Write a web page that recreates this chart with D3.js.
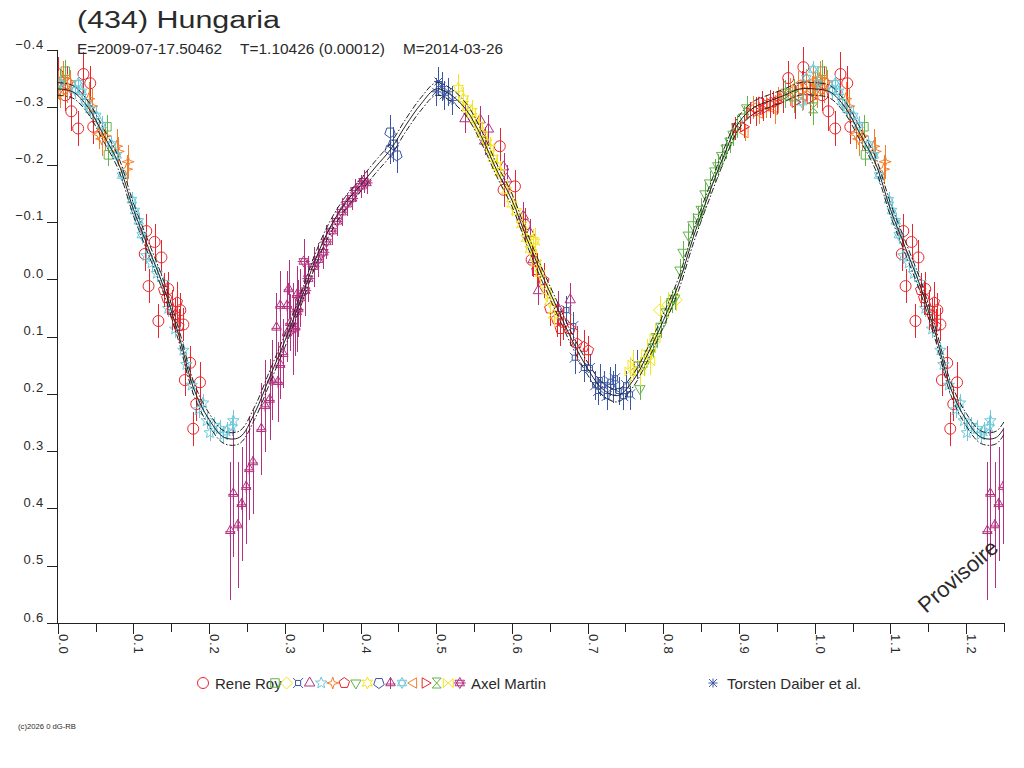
<!DOCTYPE html>
<meta charset="utf-8">
<style>
  body { margin: 0; background: #fff; }
  text { font-family: "Liberation Sans", Arial, sans-serif; fill: #2a2a2a; }
</style>
<svg width="1024" height="768"></svg>
<script src="https://d3js.org/d3.v7.min.js"></script>
<script>
  // axis ticks
  var yTicks = [-0.4, -0.3, -0.2, -0.1, 0.0, 0.1, 0.2, 0.3, 0.4, 0.5, 0.6];
  var xMajor = [0.0, 0.1, 0.2, 0.3, 0.4, 0.5, 0.6, 0.7, 0.8, 0.9, 1.0, 1.1, 1.2];
  var xMinor = [0.05, 0.15, 0.25, 0.35, 0.45, 0.55, 0.65, 0.75, 0.85, 0.95, 1.05, 1.15, 1.25];

  // fitted lightcurve
  var fitPhase = [0.00, 0.02, 0.04, 0.06, 0.08, 0.10, 0.12, 0.14, 0.16, 0.18, 0.20, 0.22, 0.24, 0.26,
    0.28, 0.30, 0.32, 0.34, 0.36, 0.38, 0.40, 0.42, 0.44, 0.46, 0.48, 0.50, 0.52, 0.54, 0.56, 0.58,
    0.60, 0.62, 0.64, 0.66, 0.68, 0.70, 0.72, 0.74, 0.76, 0.78, 0.80, 0.82, 0.84, 0.86, 0.88, 0.90,
    0.92, 0.94, 0.96, 0.98, 1.00];
  var fitMag = [-0.332, -0.327, -0.300, -0.253, -0.203, -0.122, -0.054, 0.014, 0.098, 0.192, 0.245, 0.276, 0.276, 0.234,
    0.171, 0.108, 0.040, -0.033, -0.091, -0.133, -0.164, -0.196, -0.227, -0.269, -0.306, -0.332, -0.321, -0.295, -0.248, -0.190,
    -0.138, -0.070, -0.007, 0.051, 0.108, 0.156, 0.192, 0.203, 0.177, 0.129, 0.072, 0.009, -0.075, -0.148, -0.216, -0.274,
    -0.300, -0.311, -0.321, -0.332, -0.332];

  // sessions: [phase, mag, error]
  var roy = [[0.000,-0.358,0.030],[0.012,-0.342,0.030],[0.034,-0.358,0.038],[0.043,-0.342,0.030],[0.018,-0.293,0.035],
    [0.027,-0.263,0.030],[0.010,-0.321,0.028],[0.047,-0.266,0.030],[0.117,-0.084,0.030],[0.128,-0.065,0.032],
    [0.115,-0.044,0.030],[0.137,-0.038,0.030],[0.120,0.012,0.030],[0.146,0.017,0.030],[0.133,0.073,0.030],
    [0.162,0.054,0.030],[0.166,0.079,0.028],[0.175,0.146,0.030],[0.168,0.176,0.028],[0.188,0.180,0.035],
    [0.183,0.218,0.030],[0.179,0.261,0.030],[0.584,-0.232,0.032],[0.589,-0.156,0.030],[0.604,-0.162,0.028],
    [0.617,-0.095,0.030],[0.626,-0.034,0.028],[0.965,-0.351,0.030],[0.985,-0.370,0.035],[0.983,-0.333,0.030]];
  var greenSq = [[0.003,-0.345,0.020],[0.010,-0.363,0.020],[0.065,-0.266,0.020],[0.067,-0.217,0.020]];
  var yellowDia = [[0.795,0.054,0.025],[0.806,0.045,0.022],[0.817,0.036,0.020]];
  var blueCross = [[0.672,0.054,0.025],[0.681,0.082,0.025],[0.683,0.137,0.028],[0.695,0.155,0.025],[0.703,0.155,0.025],
    [0.710,0.185,0.025],[0.716,0.176,0.028],[0.721,0.185,0.025],[0.725,0.204,0.025],[0.730,0.179,0.025],
    [0.734,0.188,0.028],[0.741,0.195,0.025],[0.747,0.204,0.025],[0.751,0.185,0.025],[0.756,0.201,0.028],
    [0.714,0.195,0.025],[0.765,0.149,0.025],[0.736,0.173,0.025]];
  var magTri = [[0.538,-0.280,0.025],[0.558,-0.278,0.025],[0.569,-0.262,0.025],[0.564,-0.241,0.025],[0.589,-0.196,0.025],
    [0.593,-0.175,0.025],[0.615,-0.110,0.025],[0.624,-0.080,0.025],[0.628,-0.034,0.030],[0.635,0.020,0.025],
    [0.661,0.051,0.030],[0.677,0.036,0.030]];
  var cyanStar = [[0.117,-0.041,0.015],[0.124,-0.028,0.015],[0.131,-0.010,0.015],[0.140,0.006,0.015],[0.146,0.051,0.015],
    [0.155,0.087,0.015],[0.166,0.124,0.015],[0.170,0.149,0.015],[0.177,0.185,0.015],[0.186,0.228,0.015],
    [0.192,0.216,0.015],[0.197,0.247,0.015],[0.206,0.255,0.015],[0.214,0.261,0.015],[0.223,0.265,0.015],
    [0.230,0.258,0.015],[0.232,0.247,0.018],[0.219,0.271,0.015],[0.201,0.268,0.015]];
  var orange4 = [[0.001,-0.339,0.025],[0.007,-0.351,0.030],[0.012,-0.333,0.025],[0.003,-0.323,0.025],[0.016,-0.345,0.020],
    [0.041,-0.315,0.030],[0.045,-0.302,0.030],[0.054,-0.253,0.025],[0.058,-0.245,0.030],[0.063,-0.250,0.025],
    [0.078,-0.232,0.030],[0.080,-0.223,0.025],[0.091,-0.192,0.025],[0.093,-0.205,0.030]];
  var redPent = [[0.144,0.033,0.030],[0.151,0.054,0.035],[0.155,0.063,0.030],[0.160,0.082,0.030],[0.140,0.019,0.030],
    [0.158,0.040,0.035],[0.633,-0.016,0.030],[0.642,0.002,0.030],[0.650,0.051,0.030],[0.659,0.070,0.030],
    [0.668,0.076,0.030],[0.664,0.087,0.030],[0.677,0.087,0.030],[0.686,0.112,0.030],[0.695,0.118,0.030],
    [0.701,0.124,0.025]];
  var greenTri = [[0.769,0.191,0.020],[0.775,0.149,0.020],[0.782,0.130,0.020],[0.786,0.118,0.020],[0.791,0.100,0.020],
    [0.797,0.082,0.020],[0.804,0.057,0.020],[0.811,0.039,0.020],[0.815,0.033,0.020],[0.822,-0.016,0.020],
    [0.826,-0.047,0.020],[0.833,-0.077,0.020],[0.839,-0.095,0.020],[0.846,-0.108,0.020],[0.850,-0.122,0.020],
    [0.855,-0.149,0.020],[0.861,-0.168,0.020],[0.868,-0.189,0.020],[0.872,-0.198,0.020],[0.877,-0.216,0.020],
    [0.883,-0.229,0.020],[0.888,-0.241,0.020],[0.892,-0.253,0.020],[0.897,-0.266,0.020],[0.906,-0.283,0.020],
    [0.910,-0.299,0.020]];
  var yellowStar = [[0.529,-0.333,0.025],[0.536,-0.315,0.020],[0.540,-0.299,0.020],[0.547,-0.293,0.020],[0.551,-0.278,0.020],
    [0.556,-0.269,0.020],[0.560,-0.253,0.020],[0.567,-0.238,0.020],[0.571,-0.229,0.020],[0.575,-0.211,0.020],
    [0.580,-0.198,0.020],[0.584,-0.186,0.020],[0.593,-0.155,0.020],[0.600,-0.131,0.020],[0.606,-0.118,0.020],
    [0.613,-0.095,0.020],[0.619,-0.071,0.020],[0.624,-0.052,0.020],[0.632,-0.028,0.025],[0.630,-0.065,0.025],
    [0.628,-0.068,0.020],[0.637,-0.010,0.025],[0.646,0.020,0.020],[0.650,0.039,0.020],[0.655,0.063,0.020]];
  var bluePent = [[0.439,-0.256,0.030],[0.443,-0.235,0.030],[0.439,-0.226,0.025],[0.448,-0.216,0.030]];
  var magAster = [[0.228,0.439,0.120],[0.232,0.374,0.110],[0.238,0.429,0.110],[0.243,0.392,0.100],[0.249,0.362,0.100],
    [0.253,0.331,0.090],[0.258,0.319,0.090],[0.269,0.261,0.080],[0.274,0.221,0.080],[0.280,0.210,0.070],
    [0.283,0.176,0.070],[0.291,0.179,0.070],[0.294,0.149,0.060],[0.298,0.130,0.060],[0.303,0.094,0.050],
    [0.307,0.076,0.050],[0.314,0.084,0.050],[0.294,0.046,0.060],[0.303,0.046,0.060],[0.305,0.017,0.050],
    [0.316,0.027,0.050],[0.318,0.051,0.050],[0.289,0.084,0.060]];
  var cyanAster = [[0.003,-0.342,0.015],[0.027,-0.342,0.015],[0.023,-0.330,0.015],[0.032,-0.327,0.015],[0.036,-0.309,0.015],
    [0.043,-0.296,0.015],[0.051,-0.285,0.015],[0.058,-0.269,0.015],[0.071,-0.235,0.015],[0.078,-0.216,0.015],
    [0.085,-0.181,0.015],[0.098,-0.138,0.015],[0.102,-0.119,0.015],[0.107,-0.101,0.015],[0.111,-0.077,0.015],
    [0.983,-0.309,0.015],[0.998,-0.366,0.015],[0.989,-0.351,0.015]];
  var orangeTri = [[0.908,-0.256,0.015],[0.919,-0.299,0.020],[0.927,-0.290,0.020],[0.936,-0.302,0.020],[0.947,-0.296,0.025],
    [0.952,-0.315,0.020],[0.948,-0.299,0.020],[0.967,-0.327,0.025],[0.978,-0.339,0.025],[0.989,-0.339,0.025],
    [0.998,-0.345,0.025],[0.985,-0.320,0.025],[0.996,-0.330,0.025]];
  var redTri = [[0.895,-0.263,0.020],[0.906,-0.266,0.020],[0.914,-0.290,0.020],[0.923,-0.293,0.025],[0.932,-0.296,0.020],
    [0.941,-0.306,0.025],[0.950,-0.309,0.020],[0.930,-0.309,0.020],[0.945,-0.309,0.020],[0.958,-0.320,0.030],
    [0.974,-0.309,0.030],[0.994,-0.315,0.030]];
  var greenHour = [[0.961,-0.323,0.025],[0.972,-0.320,0.030],[0.998,-0.299,0.030]];
  var yellowBow = [[0.756,0.161,0.025],[0.760,0.149,0.025],[0.769,0.161,0.025],[0.778,0.130,0.025],[0.782,0.143,0.025],
    [0.789,0.103,0.025]];
  var axel = [[0.311,0.087,0.080],[0.316,0.057,0.070],[0.320,0.033,0.050],[0.327,0.020,0.045],[0.331,-0.001,0.040],
    [0.338,-0.022,0.035],[0.344,-0.034,0.030],[0.351,-0.047,0.030],[0.355,-0.065,0.030],[0.362,-0.084,0.025],
    [0.369,-0.101,0.025],[0.375,-0.117,0.025],[0.382,-0.131,0.020],[0.389,-0.141,0.020],[0.393,-0.155,0.020],
    [0.400,-0.162,0.020],[0.404,-0.171,0.020],[0.408,-0.168,0.020],[0.325,-0.031,0.040]];
  var daiber = [[0.503,-0.345,0.025],[0.500,-0.327,0.025],[0.510,-0.321,0.025],[0.516,-0.327,0.025],[0.521,-0.312,0.025],
    [0.507,-0.336,0.025]];

  var red = "#e8262b", orange = "#f2802a", yellow = "#f4e41c", green = "#62b548",
    cyan = "#6cc8da", blue = "#3a56a5", magenta = "#b3317f";

  var sessions = [
    { name: "Rene Roy", pts: roy, color: red, sym: "circle" },
    { name: "", pts: greenSq, color: green, sym: "square" },
    { name: "", pts: yellowDia, color: yellow, sym: "diamond" },
    { name: "", pts: blueCross, color: blue, sym: "crossSq" },
    { name: "", pts: magTri, color: magenta, sym: "triUp" },
    { name: "", pts: cyanStar, color: cyan, sym: "star5" },
    { name: "", pts: orange4, color: orange, sym: "star4" },
    { name: "", pts: redPent, color: red, sym: "pent" },
    { name: "", pts: greenTri, color: green, sym: "triDown" },
    { name: "", pts: yellowStar, color: yellow, sym: "star6" },
    { name: "", pts: bluePent, color: blue, sym: "pentDown" },
    { name: "", pts: magAster, color: magenta, sym: "tree" },
    { name: "", pts: cyanAster, color: cyan, sym: "hexa" },
    { name: "", pts: orangeTri, color: orange, sym: "triLeft" },
    { name: "", pts: redTri, color: red, sym: "triRight" },
    { name: "", pts: greenHour, color: green, sym: "hour" },
    { name: "", pts: yellowBow, color: yellow, sym: "bow" },
    { name: "Axel Martin", pts: axel, color: magenta, sym: "david" },
    { name: "Torsten Daiber et al.", pts: daiber, color: blue, sym: "aster" }
  ];

  var svg = d3.select("svg");
  var x = d3.scaleLinear().domain([0, 1.25]).range([57.7, 1004]);
  var y = d3.scaleLinear().domain([-0.4, 0.6]).range([50, 623]);

  function poly(n, r, rot) {
    var s = "";
    for (var i = 0; i < n; i++) {
      var a = rot + i * 2 * Math.PI / n;
      s += (i ? "L" : "M") + (r * Math.sin(a)).toFixed(2) + "," + (-r * Math.cos(a)).toFixed(2);
    }
    return s + "Z";
  }
  function star(n, ro, ri) {
    var s = "";
    for (var i = 0; i < 2 * n; i++) {
      var a = i * Math.PI / n, r = i % 2 ? ri : ro;
      s += (i ? "L" : "M") + (r * Math.sin(a)).toFixed(2) + "," + (-r * Math.cos(a)).toFixed(2);
    }
    return s + "Z";
  }
  var symbols = {
    circle: "M5.5,0A5.5,5.5 0 1,1 -5.5,0A5.5,5.5 0 1,1 5.5,0Z",
    square: poly(4, 6, Math.PI / 4),
    diamond: poly(4, 6, 0),
    crossSq: poly(4, 3.6, Math.PI / 4) + "M-2.5,-2.5L-5,-5M2.5,-2.5L5,-5M2.5,2.5L5,5M-2.5,2.5L-5,5",
    triUp: poly(3, 6, 0),
    star5: star(5, 6, 2.6),
    star4: star(4, 6, 2),
    pent: poly(5, 5.5, 0),
    triDown: poly(3, 6, Math.PI),
    star6: star(6, 6, 3),
    pentDown: poly(5, 5.5, Math.PI),
    tree: poly(3, 5.5, 0) + "M-5,1H5M0,-6V6",
    hexa: poly(3, 5.5, 0) + poly(3, 5.5, Math.PI),
    triLeft: poly(3, 6, -Math.PI / 2),
    triRight: poly(3, 6, Math.PI / 2),
    hour: "M-4.5,-5H4.5L-4.5,5H4.5Z",
    bow: "M-5,-4.5V4.5L5,-4.5V4.5Z",
    david: poly(3, 5.5, 0) + poly(3, 5.5, Math.PI) + "M-6,0H6",
    aster: "M-4,-4L4,4M4,-4L-4,4M-4.5,0H4.5M0,-4.5V4.5"
  };

  // repeat the first quarter of the cycle after phase 1
  function wrap(pts, lim) {
    return pts.concat(pts.filter(function(d) { return d[0] > 0 && d[0] <= lim; })
      .map(function(d) { return [d[0] + 1, d[1], d[2]]; }));
  }

  svg.append("rect").attr("width", 1024).attr("height", 768).attr("fill", "#fff");
  svg.append("clipPath").attr("id", "plot").append("rect")
    .attr("x", 57.7).attr("y", 40).attr("width", 946.3).attr("height", 583);

  // data
  var pg = svg.append("g").attr("clip-path", "url(#plot)");
  sessions.forEach(function(s) {
    var g = pg.append("g").attr("stroke", s.color).attr("fill", "none").attr("stroke-width", 1);
    var pts = wrap(s.pts, 0.25);
    g.selectAll("line").data(pts).enter().append("line")
      .attr("shape-rendering", "crispEdges")
      .attr("x1", function(d) { return Math.round(x(d[0])) + 0.5; })
      .attr("x2", function(d) { return Math.round(x(d[0])) + 0.5; })
      .attr("y1", function(d) { return y(d[1] - d[2]); })
      .attr("y2", function(d) { return y(d[1] + d[2]); });
    g.selectAll("path").data(pts).enter().append("path")
      .attr("d", symbols[s.sym])
      .attr("transform", function(d) { return "translate(" + x(d[0]) + "," + y(d[1]) + ")"; });
  });

  // fitted curve with its envelope
  var fit = wrap(fitPhase.map(function(p, i) { return [p, fitMag[i]]; }), 0.26);
  var line = d3.line().curve(d3.curveCatmullRom)
    .x(function(d) { return x(d[0]); });
  var cg = svg.append("g").attr("clip-path", "url(#plot)").attr("fill", "none").attr("stroke", "#222");
  cg.append("path").datum(fit).attr("stroke-width", 1)
    .attr("d", line.y(function(d) { return y(d[1]); }));
  [-0.011, 0.011].forEach(function(off) {
    cg.append("path").datum(fit).attr("stroke-width", 1).attr("stroke-dasharray", "6,2,1.5,2")
      .attr("d", line.y(function(d) { return y(d[1] + off); }));
  });

  // axes
  var ax = svg.append("g").attr("stroke", "#222").attr("shape-rendering", "crispEdges");
  ax.append("line").attr("x1", 57.5).attr("x2", 57.5).attr("y1", y(-0.4)).attr("y2", y(0.6));
  ax.append("line").attr("x1", 47).attr("x2", x(1.25)).attr("y1", 623.5).attr("y2", 623.5);
  ax.selectAll(".yt").data(yTicks).enter().append("line")
    .attr("x1", 47).attr("x2", 57.5)
    .attr("y1", function(d) { return Math.round(y(d)) + 0.5; })
    .attr("y2", function(d) { return Math.round(y(d)) + 0.5; });
  ax.selectAll(".xt").data(xMajor).enter().append("line")
    .attr("x1", function(d) { return Math.round(x(d)) + 0.5; })
    .attr("x2", function(d) { return Math.round(x(d)) + 0.5; })
    .attr("y1", 623).attr("y2", 634);
  ax.selectAll(".xm").data(xMinor).enter().append("line")
    .attr("x1", function(d) { return Math.round(x(d)) + 0.5; })
    .attr("x2", function(d) { return Math.round(x(d)) + 0.5; })
    .attr("y1", 623).attr("y2", 632);

  var fmt = d3.format(".1f");
  svg.selectAll(".yl").data(yTicks).enter().append("text")
    .attr("x", 44).attr("y", function(d) { return y(d) - 1.5; })
    .attr("text-anchor", "end").attr("font-size", 13).attr("letter-spacing", 0.8)
    .text(fmt);
  svg.selectAll(".xl").data(xMajor).enter().append("text")
    .attr("transform", function(d) { return "translate(" + (x(d) + 1) + ",634) rotate(90)"; })
    .attr("font-size", 13).attr("letter-spacing", 0.8)
    .text(fmt);

  // titles
  svg.append("text").attr("x", 77).attr("y", 28).attr("font-size", 23)
    .attr("textLength", 203).attr("lengthAdjust", "spacingAndGlyphs").text("(434) Hungaria");
  [["E=2009-07-17.50462", 77, 145], ["T=1.10426 (0.00012)", 240, 145], ["M=2014-03-26", 403, 100]]
    .forEach(function(t) {
      svg.append("text").attr("x", t[1]).attr("y", 54).attr("font-size", 14.5)
        .attr("textLength", t[2]).attr("lengthAdjust", "spacingAndGlyphs").text(t[0]);
    });

  // legend
  var lg = svg.append("g");
  function legendSym(s, cx) {
    lg.append("path").attr("d", symbols[s.sym]).attr("transform", "translate(" + cx + ",683)")
      .attr("fill", "none").attr("stroke", s.color);
  }
  legendSym(sessions[0], 203);
  lg.append("text").attr("x", 215).attr("y", 688.5).attr("font-size", 15).text(sessions[0].name);
  for (var i = 1; i <= 17; i++) legendSym(sessions[i], 275 + (i - 1) * 11.55);
  lg.append("text").attr("x", 471).attr("y", 688.5).attr("font-size", 15).text(sessions[17].name);
  legendSym(sessions[18], 713);
  lg.append("text").attr("x", 727).attr("y", 688.5).attr("font-size", 15).text(sessions[18].name);

  svg.append("text").attr("transform", "translate(926,614) rotate(-41)")
    .attr("font-size", 22).attr("fill", "#222").text("Provisoire");
  svg.append("text").attr("x", 18).attr("y", 729).attr("font-size", 7)
    .attr("textLength", 58).attr("lengthAdjust", "spacingAndGlyphs").text("(c)2026 0 dG-RB");
</script>
